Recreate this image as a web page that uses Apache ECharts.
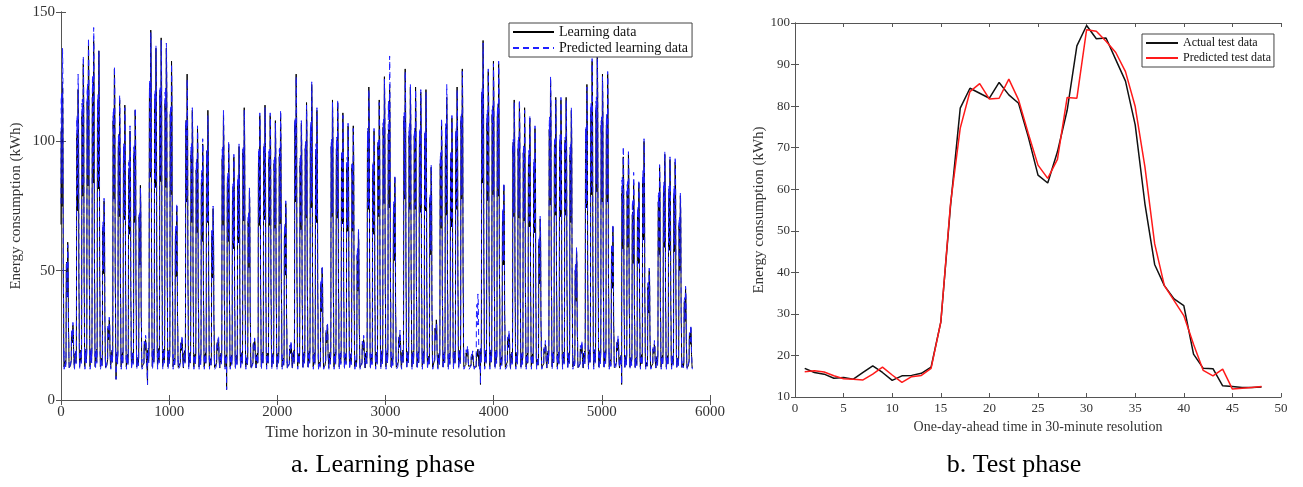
<!DOCTYPE html>
<html>
<head>
<meta charset="utf-8">
<title>Learning phase / Test phase</title>
<script src="https://cdn.jsdelivr.net/npm/echarts/dist/echarts.min.js"></script>
<style>
  html, body { margin: 0; padding: 0; background: #fff; }
  #chart { width: 1303px; height: 487px; }
</style>
</head>
<body>
<div id="chart"></div>
<script>
  // peak of every day in the learning set, one value per day
  var learnPeaks = [123, 61, 29, 120, 130, 137, 139, 135, 77, 31,
    128, 116, 114, 104, 112, 83, 24, 143, 136, 140,
    136, 131, 75, 24, 126, 112, 105, 99, 112, 74,
    24, 110, 99, 94, 98, 113, 81, 24, 110, 114,
    110, 108, 111, 76, 22, 126, 107, 115, 122, 112,
    51, 29, 116, 115, 111, 106, 106, 65, 24, 121,
    104, 116, 125, 122, 86, 26, 128, 121, 121, 119,
    120, 90, 31, 108, 117, 109, 121, 128, 20, 18,
    20, 139, 127, 131, 130, 83, 26, 116, 115, 113,
    109, 105, 70, 22, 124, 117, 116, 117, 112, 58,
    22, 122, 131, 133, 126, 126, 67, 24, 94, 95,
    84, 84, 100, 50, 22, 90, 95, 93, 92, 79,
    43, 28];
  var learnPredPeaks = [136, 60, 30, 126, 133, 140, 144, 135, 78, 32,
    129, 118, 113, 106, 113, 82, 25, 142, 137, 139,
    138, 130, 76, 25, 124, 113, 106, 101, 110, 75,
    25, 112, 100, 95, 99, 112, 82, 24, 111, 113,
    111, 107, 112, 77, 23, 125, 108, 114, 123, 113,
    52, 30, 115, 116, 110, 107, 105, 66, 25, 120,
    105, 115, 124, 133, 87, 27, 127, 122, 120, 120,
    119, 91, 30, 109, 122, 110, 120, 127, 21, 19,
    41, 138, 128, 130, 131, 84, 27, 115, 116, 112,
    110, 106, 71, 23, 125, 116, 117, 116, 113, 59,
    23, 121, 132, 134, 125, 127, 68, 25, 98, 96,
    88, 85, 101, 51, 23, 91, 96, 94, 94, 80,
    44, 29];
  // short drops below the night level: [day, half-hour slot, kWh]
  var learnDrops = [[10, 44, 8], [16, 47, 6], [32, 10, 4], [81, 5, 6], [108, 14, 6]];
  var learnStartSlot = 15;     // the record starts in the middle of a day
  var learnLength = 5841;
  var slotsPerDay = 48;

  // panel b, one day ahead
  var testSlots = [1, 2, 3, 4, 5, 6, 7, 8, 9, 10, 11, 12, 13, 14, 15, 16, 17, 18, 19, 20, 21, 22, 23, 24,
    25, 26, 27, 28, 29, 30, 31, 32, 33, 34, 35, 36, 37, 38, 39, 40, 41, 42, 43, 44, 45, 46, 47, 48];
  var testActual = [16.9, 15.9, 15.5, 14.5, 14.7, 14.3, 15.9, 17.5, 15.9, 14.0, 15.1, 15.2,
    15.7, 17.2, 28, 56, 79.5, 84.3, 83.1, 81.9, 85.7, 82.7, 80.7, 72.6,
    63.4, 61.5, 69, 79, 94.5, 99.4, 96.2, 96.4, 91.2, 86, 75.5, 56.5,
    41.9, 36.8, 33.6, 32, 20.3, 16.9, 16.8, 12.7, 12.5, 12.3, 12.3, 12.4];
  var testPred = [16.1, 16.3, 16.0, 15.1, 14.4, 14.3, 14.1, 15.5, 17.2, 15.3, 13.5, 14.9,
    15.2, 16.9, 28, 56.5, 74.7, 83.5, 85.4, 81.7, 81.9, 86.5, 81.5, 73.4,
    65.8, 62.6, 67.2, 82.1, 81.9, 98.4, 98, 95.6, 92.9, 88.3, 79.9, 65.4,
    46.9, 36.8, 33.2, 29.6, 22.7, 16.4, 15.1, 16.7, 11.9, 12.1, 12.3, 12.5];

  var serif = '"Liberation Serif", "Times New Roman", serif';
  var axisColor = '#555';
  var labelColor = '#333';

  /**
   * 学习段: every day takes the one-day profile of panel b, stretched to that day's peak
   */
  function buildLearning(peaks, profile) {
    var pMin = Math.min.apply(null, profile);
    var pMax = Math.max.apply(null, profile);
    var out = [];
    for (var t = 0; t < learnLength; t++) {
      var pos = t + learnStartSlot;
      var d = Math.floor(pos / slotsPerDay);
      var k = pos % slotsPerDay;
      var v = pMin + (profile[k] - pMin) * (peaks[d] - pMin) / (pMax - pMin);
      out.push([t, +v.toFixed(2)]);
    }
    learnDrops.forEach(function (g) {
      var t = g[0] * slotsPerDay + g[1] - learnStartSlot;
      if (t >= 0 && t < learnLength) out[t][1] = g[2];
    });
    return out;
  }

  function zip(xs, ys) {
    return xs.map(function (x, i) { return [x, ys[i]]; });
  }

  function plain(v) {
    return String(v);
  }

  function boxAxis(gridIndex, pos, min, max, interval, tickLen) {
    return {
      type: 'value', gridIndex: gridIndex, position: pos,
      min: min, max: max, interval: interval,
      axisLine: { show: true, lineStyle: { color: axisColor, width: 1 } },
      axisTick: { show: true, inside: true, length: tickLen, lineStyle: { color: axisColor } },
      axisLabel: { show: false },
      splitLine: { show: false }
    };
  }

  var chart = echarts.init(document.getElementById('chart'), null, { renderer: 'canvas' });
  var option = {
    animation: false,
    backgroundColor: '#fff',
    textStyle: { fontFamily: serif },
    grid: [
      { left: 61, top: 12, width: 649, height: 388 },
      { left: 795, top: 23, width: 486, height: 374 }
    ],
    xAxis: [
      {
        type: 'value', gridIndex: 0, min: 0, max: 6000, interval: 1000,
        name: 'Time horizon in 30-minute resolution', nameLocation: 'middle', nameGap: 24,
        nameTextStyle: { fontFamily: serif, fontSize: 16, color: labelColor },
        axisLine: { show: true, lineStyle: { color: axisColor } },
        axisTick: { inside: true, length: 5, lineStyle: { color: axisColor } },
        axisLabel: { fontFamily: serif, fontSize: 15, color: labelColor, margin: 5, formatter: plain },
        splitLine: { show: false }
      },
      {
        type: 'value', gridIndex: 1, min: 0, max: 50, interval: 5,
        name: 'One-day-ahead time in 30-minute resolution', nameLocation: 'middle', nameGap: 21,
        nameTextStyle: { fontFamily: serif, fontSize: 14, color: labelColor },
        axisLine: { show: true, lineStyle: { color: axisColor } },
        axisTick: { inside: true, length: 4, lineStyle: { color: axisColor } },
        axisLabel: { fontFamily: serif, fontSize: 13, color: labelColor, margin: 5, formatter: plain },
        splitLine: { show: false }
      },
      boxAxis(0, 'top', 0, 6000, 1000, 5),
      boxAxis(1, 'top', 0, 50, 5, 4)
    ],
    yAxis: [
      {
        type: 'value', gridIndex: 0, min: 0, max: 150, interval: 50,
        name: 'Energy consumption (kWh)', nameLocation: 'middle', nameGap: 37,
        nameTextStyle: { fontFamily: serif, fontSize: 15, color: labelColor },
        axisLine: { show: true, lineStyle: { color: axisColor } },
        axisTick: { inside: true, length: 5, lineStyle: { color: axisColor } },
        axisLabel: { fontFamily: serif, fontSize: 15, color: labelColor, margin: 6, formatter: plain },
        splitLine: { show: false }
      },
      {
        type: 'value', gridIndex: 1, min: 10, max: 100, interval: 10,
        name: 'Energy consumption (kWh)', nameLocation: 'middle', nameGap: 28,
        nameTextStyle: { fontFamily: serif, fontSize: 15, color: labelColor },
        axisLine: { show: true, lineStyle: { color: axisColor } },
        axisTick: { inside: true, length: 4, lineStyle: { color: axisColor } },
        axisLabel: { fontFamily: serif, fontSize: 13, color: labelColor, margin: 5, formatter: plain },
        splitLine: { show: false }
      },
      boxAxis(0, 'right', 0, 150, 50, 5),
      boxAxis(1, 'right', 10, 100, 10, 4)
    ],
    legend: [
      {
        left: 509, top: 23, orient: 'vertical', selectedMode: false,
        data: ['Learning data', 'Predicted learning data'],
        padding: [2, 4, 2, 3], itemGap: 2, itemWidth: 41, itemHeight: 14,
        itemStyle: { opacity: 0 },
        borderColor: '#444', borderWidth: 1, backgroundColor: '#fff',
        textStyle: { fontFamily: serif, fontSize: 14, color: '#111' }
      },
      {
        left: 1142, top: 34, orient: 'vertical', selectedMode: false,
        data: ['Actual test data', 'Predicted test data'],
        padding: [3, 3, 3, 3], itemGap: 3, itemWidth: 32, itemHeight: 12,
        itemStyle: { opacity: 0 },
        borderColor: '#444', borderWidth: 1, backgroundColor: '#fff',
        textStyle: { fontFamily: serif, fontSize: 12, color: '#111' }
      }
    ],
    graphic: [
      {
        type: 'text', x: 383, y: 465,
        style: { text: 'a. Learning phase', font: '26px ' + serif, fill: '#000', textAlign: 'center', textVerticalAlign: 'middle' }
      },
      {
        type: 'text', x: 1014, y: 465,
        style: { text: 'b. Test phase', font: '26px ' + serif, fill: '#000', textAlign: 'center', textVerticalAlign: 'middle' }
      }
    ],
    series: [
      {
        name: 'Learning data', type: 'line', xAxisIndex: 0, yAxisIndex: 0,
        showSymbol: false, symbol: 'none', silent: true,
        lineStyle: { color: '#000', width: 1 },
        itemStyle: { color: '#000' },
        data: buildLearning(learnPeaks, testActual)
      },
      {
        name: 'Predicted learning data', type: 'line', xAxisIndex: 0, yAxisIndex: 0,
        showSymbol: false, symbol: 'none', silent: true,
        lineStyle: { color: '#1f1fff', width: 1, type: [6, 4] },
        itemStyle: { color: '#1f1fff' },
        data: buildLearning(learnPredPeaks, testPred)
      },
      {
        name: 'Actual test data', type: 'line', xAxisIndex: 1, yAxisIndex: 1,
        showSymbol: false, symbol: 'none', silent: true,
        lineStyle: { color: '#111', width: 1.5 },
        itemStyle: { color: '#111' },
        data: zip(testSlots, testActual)
      },
      {
        name: 'Predicted test data', type: 'line', xAxisIndex: 1, yAxisIndex: 1,
        showSymbol: false, symbol: 'none', silent: true,
        lineStyle: { color: '#ff1a1a', width: 1.5 },
        itemStyle: { color: '#ff1a1a' },
        data: zip(testSlots, testPred)
      }
    ]
  };
  chart.setOption(option);
</script>
</body>
</html>
